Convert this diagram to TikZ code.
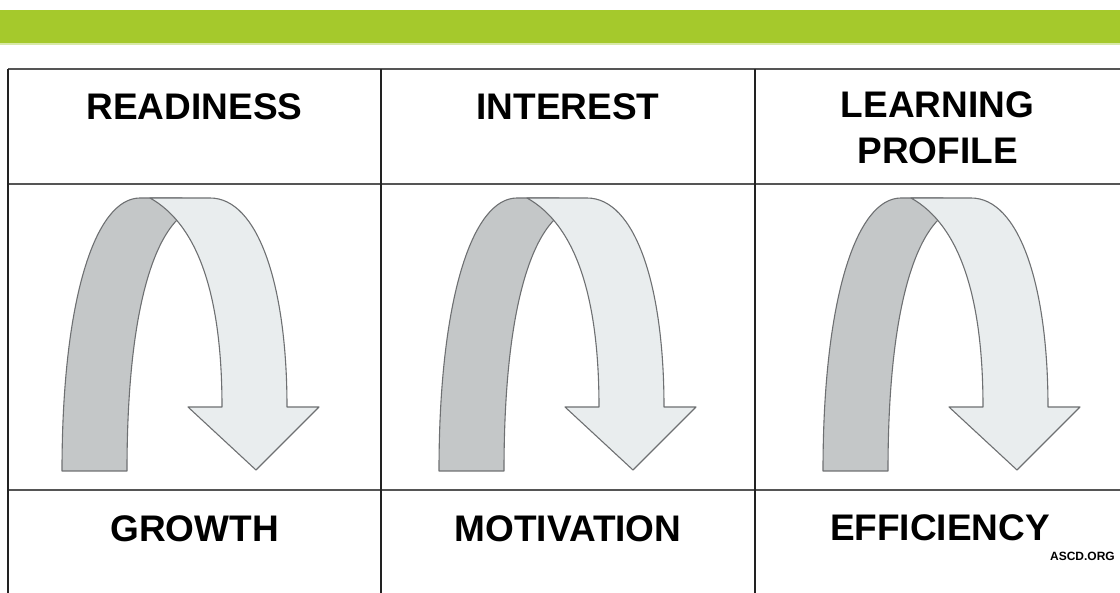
\documentclass[tikz,border=0pt]{standalone}
\usepackage{fontspec}
\setmainfont{Liberation Sans}
\definecolor{barGreen}{HTML}{A5C92C}
\definecolor{barFade}{HTML}{D8E9A8}
\definecolor{bandDark}{HTML}{C4C7C8}
\definecolor{bandLight}{HTML}{E9EDEE}
\definecolor{bandEdge}{HTML}{6E7072}
\definecolor{ruleH}{HTML}{555555}
\definecolor{ruleV}{HTML}{222222}
\begin{document}
\begin{tikzpicture}[x=1pt,y=-1pt,
  hdr/.style={font=\fontsize{37}{45}\selectfont\bfseries, anchor=base, inner sep=0pt},
  tag/.style={font=\fontsize{12}{14}\selectfont\bfseries, anchor=base east, inner sep=0pt},
  hrule/.style={draw=ruleH, line width=1.5pt},
  vrule/.style={draw=ruleV, line width=1.2pt},
  darkband/.style={fill=bandDark, draw=bandEdge, line width=1.1pt, line join=round},
  lightband/.style={fill=bandLight, draw=bandEdge, line width=1.1pt, line join=round}]
\useasboundingbox (0,0) rectangle (1120,593);
% green bar
\fill[barGreen] (0,10) rectangle (1120,43);
\fill[barFade] (0,43) rectangle (1120,45);
% table rules
\draw[hrule] (8,69) -- (1120,69);
\draw[hrule] (8,184) -- (1120,184);
\draw[hrule] (8,490) -- (1120,490);
\draw[vrule] (8,69) -- (8,593);
\draw[vrule] (381,69) -- (381,593);
\draw[vrule] (755,69) -- (755,593);
% arrows
\foreach \dx in {0,377,761}{
\begin{scope}[shift={(\dx,0)}]
\path[darkband] (62,471) -- (127,471)
  .. controls (127,330) and (148,250) .. (177,220)
  -- (182,198) -- (140,198)
  .. controls (95,198) and (62,300) .. (62,471) -- cycle;
\path[lightband] (150,198) -- (210,198)
  .. controls (258,198) and (287,285) .. (287,407)
  -- (319,407) -- (256,470) -- (188,407) -- (222,407)
  .. controls (222,300) and (200,226) .. (150,198) -- cycle;
\end{scope}
}
% texts
\node[hdr] (readiness) at (194.5,120) {READINESS};
\node[hdr] (interest) at (568,120) {INTEREST};
\node[hdr] (learning) at (937.5,118) {LEARNING};
\node[hdr] (profile) at (937.5,164) {PROFILE};
\node[hdr] (growth) at (194.5,541) {GROWTH};
\node[hdr] (motivation) at (568,541) {MOTIVATION};
\node[hdr] (efficiency) at (940,540) {EFFICIENCY};
\node[tag] (ascd) at (1115,560) {ASCD.ORG};
\end{tikzpicture}
\end{document}
